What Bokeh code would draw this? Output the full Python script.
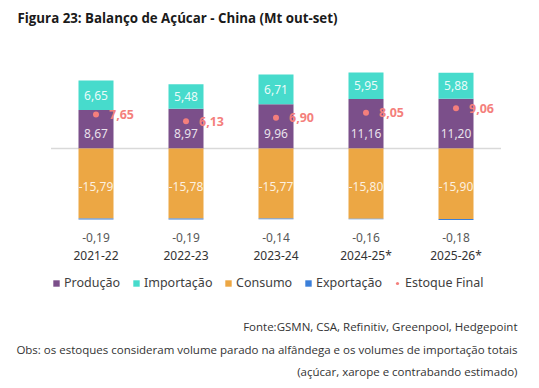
from bokeh.plotting import figure
from bokeh.models import Range1d, Label, Legend, LegendItem, ColumnDataSource
from bokeh.core.properties import value
from bokeh.embed import file_html
from bokeh.resources import INLINE

categorias = ["2021-22", "2022-23", "2023-24", "2024-25*", "2025-26*"]
producao = [8.67, 8.97, 9.96, 11.16, 11.20]
importacao = [6.65, 5.48, 6.71, 5.95, 5.88]
consumo = [-15.79, -15.78, -15.77, -15.80, -15.90]
exportacao = [-0.19, -0.19, -0.14, -0.16, -0.18]
estoque = [7.65, 6.13, 6.90, 8.05, 9.06]

C_PROD = "#7b4f8a"
C_IMP = "#47dbcc"
C_CONS = "#eca744"
C_EXP = "#3b7fd9"
C_EST = "#f47f7c"
CHART_FONT = "Noto Sans"
TXT_FONT = "Open Sans"

def fmt(v):
    return f"{v:.2f}".replace(".", ",")

n = len(categorias)
xs = list(range(n))
W, H = 535, 384
PX = 4.44  # pixels per unit
ZERO_FROM_TOP = 148
y_top = ZERO_FROM_TOP / PX
y_bot = -(H - ZERO_FROM_TOP) / PX
x0 = 95.5
SP = 90.0

p = figure(width=W, height=H, output_backend="svg", toolbar_location=None,
           x_range=Range1d(-x0 / SP, (W - x0) / SP), y_range=Range1d(y_bot, y_top),
           x_axis_type=None, y_axis_type=None, min_border=0)
p.outline_line_color = None
p.grid.visible = False

bw = 35 / SP
imp_top = [a + b for a, b in zip(producao, importacao)]
exp_bot = [c + e for c, e in zip(consumo, exportacao)]

src = ColumnDataSource(dict(
    x=xs, prod=producao, imp_top=imp_top, cons=consumo, exp_bot=exp_bot, est=estoque,
    prod_lbl=[fmt(v) for v in producao], imp_lbl=[fmt(v) for v in importacao],
    cons_lbl=[fmt(v) for v in consumo], exp_lbl=[fmt(v) for v in exportacao],
    est_lbl=[fmt(v) for v in estoque], cat=categorias,
    imp_mid=[a + b / 2 for a, b in zip(producao, importacao)],
    cons_mid=[c / 2 - 0.7 for c in consumo],
    prod_lbl_y=[15 / PX] * n,
    exp_lbl_y=[(ZERO_FROM_TOP - 237) / PX] * n,
    cat_y=[(ZERO_FROM_TOP - 255) / PX] * n,
    est_lbl_x=[x + 13 / SP for x in xs],
))

# zero line
p.segment(x0=[-0.5], y0=[0], x1=[n - 0.5], y1=[0], line_color="#d9d9d9", line_width=1.5)

r_prod = p.vbar(x="x", bottom=0, top="prod", width=bw, source=src, fill_color=C_PROD, line_color=None)
r_imp = p.vbar(x="x", bottom="prod", top="imp_top", width=bw, source=src, fill_color=C_IMP, line_color=None)
r_cons = p.vbar(x="x", bottom="cons", top=0, width=bw, source=src, fill_color=C_CONS, line_color=None)
r_exp = p.vbar(x="x", bottom="exp_bot", top="cons", width=bw, source=src, fill_color=C_EXP,
               line_color=None)
r_est = p.scatter(x="x", y="est", size=6, source=src, fill_color=C_EST, line_color=None)

common = dict(text_font=value(CHART_FONT), text_font_size="12px", text_align="center",
              text_baseline="middle", source=src)
p.text(x="x", y="prod_lbl_y", text="prod_lbl", text_color="white", text_alpha=0.85, **common)
p.text(x="x", y="imp_mid", text="imp_lbl", text_color="white", text_alpha=0.9, **common)
p.text(x="x", y="cons_mid", text="cons_lbl", text_color="white", text_alpha=0.85, **common)
p.text(x="x", y="exp_lbl_y", text="exp_lbl", text_color="#595959", **common)
p.text(x="x", y="cat_y", text="cat", text_color="#333333", **common)
p.text(x="est_lbl_x", y="est", text="est_lbl", text_color=C_EST, text_font=value(CHART_FONT),
       text_font_size="12.5px", text_font_style="bold", text_align="left",
       text_baseline="middle", source=src)

# legend: one legend per item for exact placement
leg_items = [("Produção", r_prod, 52), ("Importação", r_imp, 132), ("Consumo", r_cons, 224),
             ("Exportação", r_exp, 304), ("Estoque Final", r_est, 393)]
for label, r, lx in leg_items:
    lg = Legend(items=[LegendItem(label=label, renderers=[r])], location=(lx, 93),
                orientation="horizontal", padding=0, margin=0, spacing=0,
                glyph_width=8, glyph_height=8, label_standoff=4,
                label_text_font=CHART_FONT, label_text_font_size="12.5px",
                label_text_color="#404040", border_line_color=None,
                background_fill_alpha=0, label_height=16)
    p.add_layout(lg, "center")

# title
p.add_layout(Label(x=17, y=H - 17, x_units="screen", y_units="screen",
                   text="Figura 23: Balanço de Açúcar - China (Mt out-set)",
                   text_font=TXT_FONT, text_font_size="13.3px", text_font_style="bold",
                   text_color="#1a1a1a", text_baseline="middle", text_align="left"))

foot = dict(x_units="screen", y_units="screen", text_font=TXT_FONT, text_font_size="11.5px",
            text_color="#333333", text_baseline="middle", text_align="right")
p.add_layout(Label(x=517, y=H - 326, text="Fonte:GSMN, CSA, Refinitiv, Greenpool, Hedgepoint", **foot))
p.add_layout(Label(x=517, y=H - 349,
                   text="Obs: os estoques consideram volume parado na alfândega e os volumes de importação totais", **foot))
p.add_layout(Label(x=517, y=H - 371, text="(açúcar, xarope e contrabando estimado)", **foot))

open("out.html", "w").write(file_html(p, INLINE))
